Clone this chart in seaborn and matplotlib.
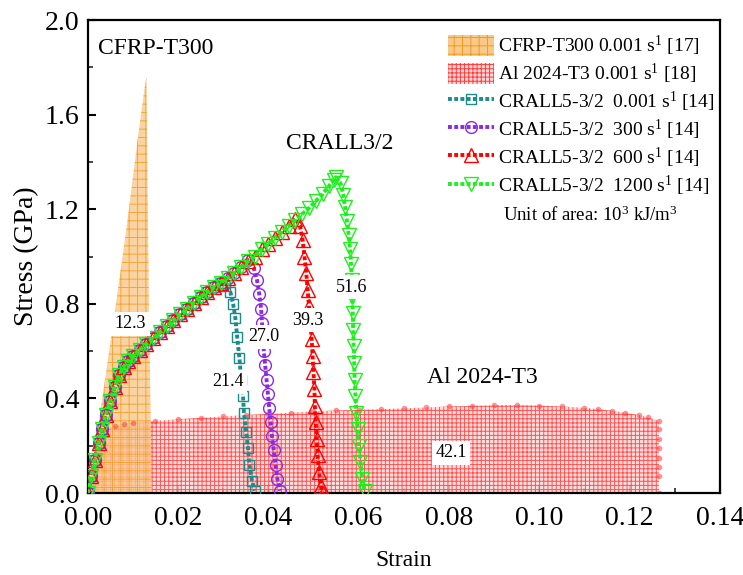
import matplotlib
matplotlib.use("Agg")
import matplotlib.pyplot as plt
from matplotlib.patches import Patch
from matplotlib.lines import Line2D
from matplotlib.ticker import MultipleLocator
import seaborn as sns
import pandas as pd

# ---------------- data ----------------
# CFRP-T300 (quasi-static)
cfrp_strain = [0.0, 0.002, 0.004, 0.0055, 0.007, 0.009, 0.0111, 0.0125, 0.0130, 0.0135, 0.0142]
cfrp_stress = [0.0, 0.24, 0.50, 0.70, 0.90, 1.18, 1.50, 1.70, 1.76, 0.9, 0.0]

# Al 2024-T3 (quasi-static)
al_strain = [0.0, 0.002, 0.004, 0.006, 0.008, 0.010, 0.015, 0.020, 0.025, 0.030, 0.035,
             0.040, 0.045, 0.050, 0.055, 0.060, 0.065, 0.070, 0.075, 0.080, 0.085,
             0.090, 0.095, 0.100, 0.105, 0.110, 0.113, 0.116, 0.119, 0.122, 0.124,
             0.1265, 0.1265, 0.1265, 0.1265, 0.1265, 0.1265, 0.1265, 0.1265]
al_stress = [0.0, 0.16, 0.27, 0.285, 0.293, 0.298, 0.305, 0.312, 0.318, 0.324, 0.330,
             0.335, 0.340, 0.345, 0.349, 0.352, 0.355, 0.358, 0.362, 0.366, 0.369,
             0.371, 0.372, 0.370, 0.366, 0.360, 0.355, 0.348, 0.340, 0.330, 0.320,
             0.305, 0.27, 0.23, 0.19, 0.15, 0.11, 0.07, 0.0]

# common loading branch of CRALL5-3/2
load_strain = [0.0, 0.0008, 0.0016, 0.0024, 0.0032, 0.0040, 0.0050, 0.0060, 0.0070, 0.0080,
               0.0090, 0.0100, 0.0115, 0.0130, 0.0145, 0.0160, 0.0175, 0.0190, 0.0205, 0.0220,
               0.0235, 0.0250, 0.0265, 0.0280, 0.0295, 0.0310, 0.0325, 0.0340, 0.0355, 0.0370,
               0.0385, 0.0400, 0.0415, 0.0430, 0.0445, 0.0460, 0.0475, 0.0490, 0.0505, 0.0520,
               0.0535, 0.0545]
load_stress = [0.0, 0.07, 0.14, 0.21, 0.27, 0.33, 0.39, 0.45, 0.50, 0.535,
               0.56, 0.58, 0.605, 0.63, 0.655, 0.68, 0.705, 0.73, 0.755, 0.78,
               0.805, 0.83, 0.85, 0.87, 0.89, 0.91, 0.93, 0.955, 0.98, 1.00,
               1.03, 1.055, 1.08, 1.105, 1.13, 1.155, 1.18, 1.205, 1.235, 1.265,
               1.30, 1.325]

# unloading / failure branches
teal_drop_strain = [0.0305, 0.0316, 0.0322, 0.0327, 0.0331, 0.0336, 0.0340, 0.0344, 0.0346,
                    0.0351, 0.0355, 0.0358, 0.0364, 0.0370]
teal_drop_stress = [0.875, 0.85, 0.80, 0.74, 0.66, 0.57, 0.48, 0.41, 0.34,
                    0.26, 0.19, 0.12, 0.05, 0.01]

purple_drop_strain = [0.0355, 0.0368, 0.0375, 0.0380, 0.0384, 0.0386, 0.0388, 0.0390, 0.0393,
                      0.0396, 0.0399, 0.0402, 0.0405, 0.0408, 0.0412, 0.0416, 0.0420, 0.0426]
purple_drop_stress = [0.985, 0.95, 0.90, 0.84, 0.78, 0.72, 0.66, 0.60, 0.54,
                      0.48, 0.42, 0.36, 0.30, 0.24, 0.18, 0.12, 0.06, 0.01]

red_drop_strain = [0.0460, 0.0470, 0.0476, 0.0480, 0.0484, 0.0487, 0.0490, 0.0493, 0.0496,
                   0.0498, 0.0500, 0.0502, 0.0503, 0.0505, 0.0507, 0.0509, 0.0512, 0.0516, 0.0520]
red_drop_stress = [1.16, 1.13, 1.07, 1.00, 0.93, 0.86, 0.79, 0.72, 0.65,
                   0.58, 0.51, 0.44, 0.37, 0.30, 0.23, 0.16, 0.09, 0.03, 0.0]

green_drop_strain = [0.0550, 0.0560, 0.0566, 0.0570, 0.0574, 0.0578, 0.0581, 0.0583, 0.0585,
                     0.0586, 0.0587, 0.0588, 0.0589, 0.0590, 0.0591, 0.0593, 0.0595, 0.0598,
                     0.0601, 0.0604, 0.0608, 0.0613]
green_drop_stress = [1.335, 1.31, 1.26, 1.21, 1.15, 1.09, 1.03, 0.97, 0.90,
                     0.83, 0.76, 0.69, 0.62, 0.55, 0.48, 0.41, 0.34, 0.27,
                     0.20, 0.13, 0.06, 0.01]

series_labels = ["CRALL5-3/2  0.001 s$^{1}$ [14]", "CRALL5-3/2  300 s$^{1}$ [14]",
                 "CRALL5-3/2  600 s$^{1}$ [14]", "CRALL5-3/2  1200 s$^{1}$ [14]"]
fill_labels = ["CFRP-T300 0.001 s$^{1}$ [17]", "Al 2024-T3 0.001 s$^{1}$ [18]"]

energy_values = ["12.3", "21.4", "27.0", "39.3", "51.6", "42.1"]
energy_pos = [(0.0095, 0.715), (0.0310, 0.47), (0.0390, 0.66), (0.0488, 0.73),
              (0.0585, 0.87), (0.0805, 0.17)]

x_ticks = [0.00, 0.02, 0.04, 0.06, 0.08, 0.10, 0.12, 0.14]
y_ticks = [0.0, 0.4, 0.8, 1.2, 1.6, 2.0]

# ---------------- style ----------------
sns.set_theme(style="ticks")
plt.rcParams["font.family"] = ["Liberation Serif", "DejaVu Serif"]
plt.rcParams["mathtext.fontset"] = "custom"
plt.rcParams["mathtext.rm"] = "Liberation Serif"
plt.rcParams["mathtext.it"] = "Liberation Serif:italic"
plt.rcParams["hatch.linewidth"] = 0.7
plt.rcParams["text.color"] = "black"
plt.rcParams["axes.labelcolor"] = "black"
plt.rcParams["legend.labelcolor"] = "black"

fig, ax = plt.subplots(figsize=(7.43, 5.75), dpi=100)
fig.subplots_adjust(left=0.118, right=0.969, top=0.965, bottom=0.1426)

# fills
cfrp_col = "#F29A1E"
cfrp_face = "#F9C98A"
al_col = "#FF3B3B"
al_face = "#FFD9D9"
ax.fill_between(al_strain, al_stress, 0, facecolor=al_face, edgecolor=al_col,
                hatch="++++", linewidth=0, zorder=1, alpha=0.85)
ax.fill_between(cfrp_strain, cfrp_stress, 0, facecolor=cfrp_face, edgecolor=cfrp_col,
                hatch="++", linewidth=0, zorder=2, alpha=0.8)
al_df = pd.DataFrame({"strain": al_strain[1:], "stress": al_stress[1:]})
sns.lineplot(data=al_df, x="strain", y="stress", sort=False, estimator=None, ax=ax,
             color=al_col, linestyle="none", marker="o", markersize=4, markeredgewidth=0,
             alpha=0.55, zorder=2)

# CRALL curves
colors = ["#1F8A8A", "#8A2BE2", "#FF0000", "#1EF01E"]
markers = ["s", "o", "^", "v"]
msizes = [7.5, 8.5, 9.5, 9.5]
drops = [(teal_drop_strain, teal_drop_stress), (purple_drop_strain, purple_drop_stress),
         (red_drop_strain, red_drop_stress), (green_drop_strain, green_drop_stress)]

for i, (dx, dy) in enumerate(drops):
    xs = [s for s in load_strain if s < dx[0]] + dx
    ys = [v for s, v in zip(load_strain, load_stress) if s < dx[0]] + dy
    df = pd.DataFrame({"strain": xs, "stress": ys})
    sns.lineplot(data=df, x="strain", y="stress", sort=False, estimator=None, ax=ax,
                 color=colors[i], linestyle=(0, (1, 0.6)), linewidth=2.8, marker=markers[i],
                 markersize=msizes[i], markerfacecolor="none", markeredgecolor=colors[i],
                 markeredgewidth=1.0, zorder=3 + i)

# energy labels
for val, (px, py) in zip(energy_values, energy_pos):
    ax.text(px, py, val, fontsize=13, ha="center", va="center", zorder=10, color="black",
            bbox=dict(facecolor="white", edgecolor="none", pad=2.5))

# material labels
ax.text(0.0022, 1.88, "CFRP-T300", fontsize=17, ha="left", va="center", zorder=10)
ax.text(0.0558, 1.48, "CRALL3/2", fontsize=17, ha="center", va="center", zorder=10)
ax.text(0.0873, 0.49, "Al 2024-T3", fontsize=17, ha="center", va="center", zorder=10)
ax.text(0.1112, 1.175, "Unit of area: 10$^{3}$ kJ/m$^{3}$", fontsize=13.5,
        ha="center", va="center", zorder=10)

# legend
handles = [Patch(facecolor=cfrp_face, edgecolor=cfrp_col, hatch="++", linewidth=0),
           Patch(facecolor=al_face, edgecolor=al_col, hatch="++++", linewidth=0)]
for i in range(4):
    handles.append(Line2D([0], [0], color=colors[i], linestyle=(0, (1, 0.6)), linewidth=2.8,
                          marker=markers[i], markersize=msizes[i], markerfacecolor="none",
                          markeredgecolor=colors[i], markeredgewidth=1.0))
ax.legend(handles, fill_labels + series_labels, loc="upper left",
          bbox_to_anchor=(0.545, 1.005), frameon=False, fontsize=14,
          handlelength=2.4, handleheight=1.3, handletextpad=0.2,
          labelspacing=0.2, borderpad=0.3)

# axes
ax.set_xlim(0, 0.14)
ax.set_ylim(0, 2.0)
ax.set_xticks(x_ticks)
ax.set_yticks(y_ticks)
ax.set_xticklabels([f"{t:.2f}" for t in x_ticks])
ax.set_yticklabels([f"{t:.1f}" for t in y_ticks])
ax.xaxis.set_minor_locator(MultipleLocator(0.01))
ax.yaxis.set_minor_locator(MultipleLocator(0.2))
ax.tick_params(axis="both", which="major", direction="in", length=6, width=1.5,
               labelsize=20, color="black", labelcolor="black")
ax.tick_params(axis="both", which="minor", direction="in", length=3.5, width=1.2)
ax.tick_params(axis="x", which="major", pad=9)
ax.tick_params(axis="y", which="major", pad=6)
for sp in ax.spines.values():
    sp.set_visible(True)
    sp.set_linewidth(1.6)
    sp.set_color("black")
ax.set_xlabel("Strain", fontsize=17, labelpad=14, color="black")
ax.set_ylabel("Stress (GPa)", fontsize=20, labelpad=4, color="black")
ax.grid(False)

fig.savefig("out.png", dpi=100)
